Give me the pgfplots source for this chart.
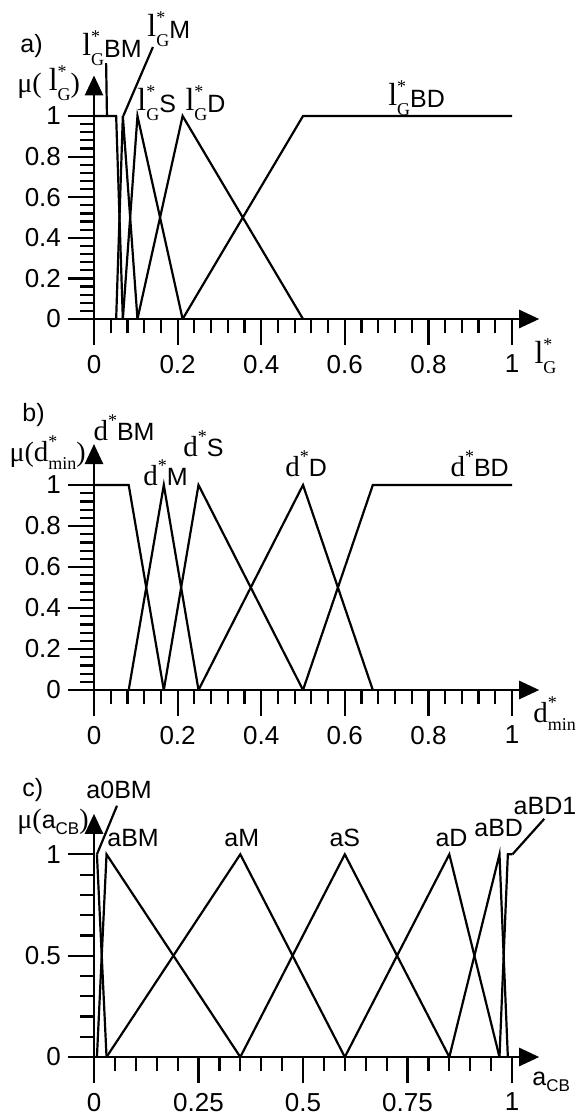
\documentclass[border=0pt]{standalone}
\usepackage{fontspec}
\setmainfont{Liberation Sans}
\newfontfamily\tnr{Liberation Serif}
\usepackage{pgfplots}
\pgfplotsset{compat=1.18}
\usetikzlibrary{arrows.meta}

\newcommand{\tn}[2]{{\tnr\fontsize{#1}{#1}\selectfont #2}}
\newcommand{\LG}{\raisebox{1pt}{\tn{16}{l}}\rlap{\raisebox{7.5pt}{\tn{9}{*}}}\raisebox{-4pt}{\tn{9}{G}}}
\newcommand{\DS}{\tn{14.5}{d}\raisebox{7pt}{\tn{9}{*}}}
\newcommand{\DMIN}{\tn{14.5}{d}\rlap{\raisebox{7pt}{\tn{9}{*}}}\raisebox{-4pt}{\tn{9}{min}}}

\tikzset{lab/.style={inner sep=0pt, anchor=base west, font=\fontsize{12.5}{14}\selectfont}}
\pgfplotsset{
  myax/.style={
    scale only axis,
    width=222.6pt,
    xmin=0, xmax=1.065, ymin=0,
    axis lines=left,
    axis line style={line width=1.3pt, -{Triangle[length=10pt,width=9pt]}},
    tick align=outside,
    xtick pos=bottom, ytick pos=left,
    major tick length=13pt, minor tick length=7pt,
    tick style={draw=black, line width=1.1pt},
    every major tick/.append style={line width=1.1pt},
    every minor tick/.append style={line width=1.1pt},
    minor x tick num=4, minor y tick num=4,
    tick label style={font=\fontsize{13}{14}\selectfont},
    xticklabel style={yshift=-1.5pt},
    /pgf/number format/assume math mode=true,
    clip=false,
    no marks,
    cycle list={{black}},
    every axis plot post/.style={black, solid, line width=1.1pt},
  },
}

\begin{document}
\begin{tikzpicture}
\useasboundingbox (-47pt,-398pt) rectangle (242.5pt,159.5pt);

% ---------------- a)
\begin{axis}[myax, at={(0pt,0pt)}, anchor=origin,
  height=121.8pt, ymax=1.2,
  xtick={0,0.2,0.4,0.6,0.8,1}, ytick={0,0.2,0.4,0.6,0.8,1}]
\addplot coordinates {(0,1) (0.053,1) (0.069,0)};
\addplot coordinates {(0.053,0) (0.069,1) (0.104,0)};
\addplot coordinates {(0.069,0) (0.104,1) (0.212,0)};
\addplot coordinates {(0.104,0) (0.212,1) (0.5,0)};
\addplot coordinates {(0.212,0) (0.5,1) (1,1)};
\addplot coordinates {(0.031,1) (0.029,1.26)};
\addplot coordinates {(0.07,1) (0.141,1.34)};
\node[lab] at (axis cs:-0.177,1.315) {a)};
\node[lab] at (axis cs:-0.029,1.286) {\LG BM};
\node[lab] at (axis cs:0.127,1.384) {\LG M};
\node[lab] at (axis cs:0.103,1.015) {\LG S};
\node[lab] at (axis cs:0.218,1.015) {\LG D};
\node[lab] at (axis cs:0.703,1.04) {\LG BD};
\node[lab] at (axis cs:-0.184,1.118) {\tn{14}{μ( }\LG\tn{14}{)}};
\node[lab] at (axis cs:1.053,-0.23) {\LG};
\end{axis}

% ---------------- b)
\begin{axis}[myax, at={(0pt,-185.5pt)}, anchor=origin,
  height=123pt, ymax=1.2,
  xtick={0,0.2,0.4,0.6,0.8,1}, ytick={0,0.2,0.4,0.6,0.8,1}]
\addplot coordinates {(0,1) (0.083,1) (0.167,0)};
\addplot coordinates {(0.083,0) (0.167,1) (0.25,0)};
\addplot coordinates {(0.167,0) (0.25,1) (0.5,0)};
\addplot coordinates {(0.25,0) (0.5,1) (0.667,0)};
\addplot coordinates {(0.5,0) (0.667,1) (1,1)};
\node[lab] at (axis cs:-0.172,1.309) {b)};
\node[lab] at (axis cs:-0.002,1.215) {\DS BM};
\node[lab] at (axis cs:0.117,1.0) {\DS M};
\node[lab] at (axis cs:0.213,1.141) {\DS S};
\node[lab] at (axis cs:0.457,1.04) {\DS D};
\node[lab] at (axis cs:0.852,1.04) {\DS BD};
\node[lab] at (axis cs:-0.203,1.113) {\tn{14}{μ(}\DMIN\tn{14}{)}};
\node[lab] at (axis cs:1.05,-0.16) {\DMIN};
\end{axis}

% ---------------- c)
\begin{axis}[myax, at={(0pt,-369pt)}, anchor=origin,
  height=121.6pt, ymax=1.2,
  xtick={0,0.25,0.5,0.75,1}, ytick={0,0.5,1}]
\addplot coordinates {(0.007,1) (0.03,0)};
\addplot coordinates {(0.007,0) (0.03,1) (0.35,0)};
\addplot coordinates {(0.03,0) (0.35,1) (0.6,0)};
\addplot coordinates {(0.35,0) (0.6,1) (0.85,0)};
\addplot coordinates {(0.6,0) (0.85,1) (0.97,0)};
\addplot coordinates {(0.85,0) (0.97,1) (0.99,0)};
\addplot coordinates {(0.97,0) (0.99,1) (1.001,1)};
\addplot coordinates {(0.007,1) (0.055,1.24)};
\addplot coordinates {(1.001,1) (1.077,1.175)};
\node[lab] at (axis cs:-0.172,1.287) {c)};
\node[lab] at (axis cs:-0.019,1.278) {a0BM};
\node[lab] at (axis cs:0.031,1.038) {aBM};
\node[lab] at (axis cs:0.311,1.038) {aM};
\node[lab, anchor=base] at (axis cs:0.6,1.038) {aS};
\node[lab] at (axis cs:0.816,1.038) {aD};
\node[lab] at (axis cs:0.909,1.086) {aBD};
\node[lab] at (axis cs:1.003,1.198) {aBD1};
\node[lab] at (axis cs:-0.184,1.126) {\tn{14}{μ(}a\raisebox{-3pt}{\fontsize{8.5}{9}\selectfont CB}\tn{14}{)}};
\node[lab] at (axis cs:1.048,-0.14) {a\raisebox{-3pt}{\fontsize{8.5}{9}\selectfont CB}};
\end{axis}
\end{tikzpicture}
\end{document}
